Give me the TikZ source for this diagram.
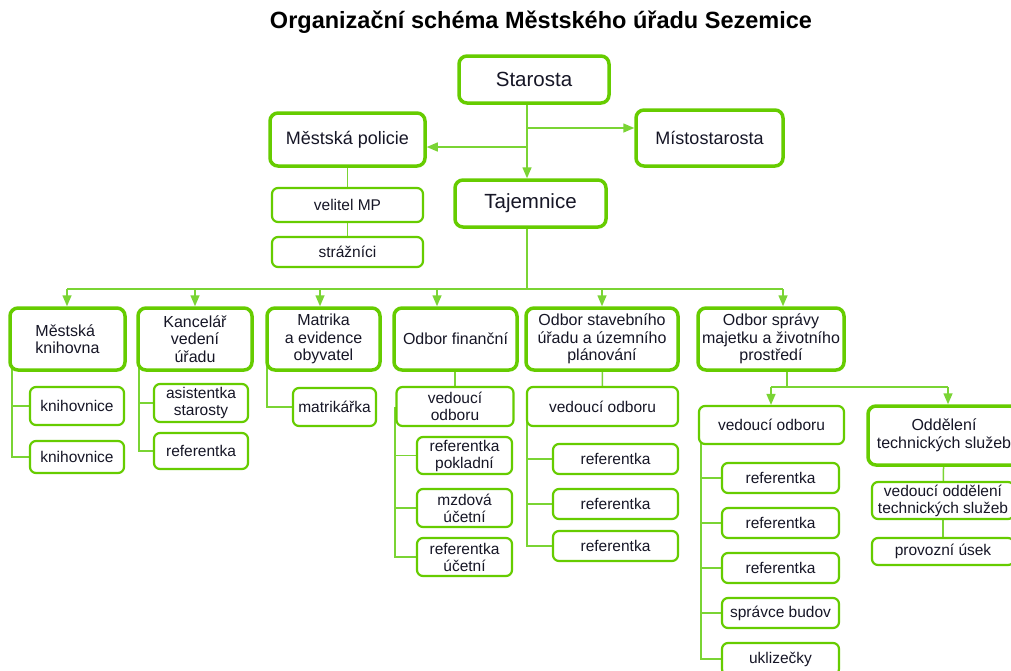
\documentclass[tikz,border=0pt]{standalone}
\usepackage{fontspec}
\setmainfont{Liberation Sans}
\usetikzlibrary{arrows.meta,backgrounds}
\definecolor{grn}{RGB}{102,204,0}
\definecolor{lgrn}{RGB}{122,212,52}
\definecolor{txt}{RGB}{22,22,38}
\begin{document}
\begin{tikzpicture}[x=1pt,y=-1pt,
 every node/.style={text=txt, inner sep=0pt, align=center},
 big/.style={draw=grn, line width=3.5pt, rounded corners=8pt, fill=white},
 small/.style={draw=grn, line width=2.2pt, rounded corners=6pt, fill=white},
 link/.style={draw=lgrn, line width=1.5pt},
 arr/.style={link, -{Triangle[length=11pt,width=9pt]}},
 fA/.style={font=\fontsize{20.5}{22}\selectfont},
 fB/.style={font=\fontsize{18}{20}\selectfont},
 fC/.style={font=\fontsize{16}{17.5}\selectfont},
 fD/.style={font=\fontsize{15.5}{17}\selectfont},
]
\useasboundingbox (0,0) rectangle (1011,670);
\clip (0,0) rectangle (1011,670);

\node[font=\bfseries\fontsize{23.5}{26}\selectfont, text=black] (title) at (541,22) {Organizační schéma Městského úřadu Sezemice};

% top level
\node[big,fA,minimum width=150pt,minimum height=47pt] (starosta) at (534,79.5) {Starosta};
\node[big,fB,minimum width=155pt,minimum height=53pt] (policie) at (347.5,139.5) {Městská policie};
\node[big,fB,minimum width=147pt,minimum height=56pt] (misto) at (709.5,138) {Místostarosta};
\node[big,fA,minimum width=151pt,minimum height=47pt] (tajemnice) at (530.5,203.5) {Tajemnice};
\node[small,fD,minimum width=151pt,minimum height=34pt] (velitel) at (347.5,205) {velitel MP};
\node[small,fD,minimum width=151pt,minimum height=30pt] (straznici) at (347.5,252) {strážníci};

% departments
\node[big,fC,minimum width=115pt,minimum height=62pt,align=left] (knihovna) at (67.5,339) {Městská\\knihovna};
\node[big,fC,minimum width=114pt,minimum height=62pt] (kancelar) at (195,339) {Kancelář\\vedení\\úřadu};
\node[big,fC,minimum width=113pt,minimum height=62pt] (matrika) at (323.5,339) {Matrika\\a evidence\\obyvatel};
\node[big,fC,minimum width=123pt,minimum height=62pt] (financni) at (455.5,339) {Odbor finanční};
\node[big,fC,minimum width=152pt,minimum height=62pt] (stavebni) at (602,339) {Odbor stavebního\\úřadu a územního\\plánování};
\node[big,fC,minimum width=146pt,minimum height=62pt] (sprava) at (771,339) {Odbor správy\\majetku a životního\\prostředí};

% knihovna
\node[small,fD,minimum width=94pt,minimum height=38pt] (knih1) at (77,406) {knihovnice};
\node[small,fD,minimum width=94pt,minimum height=32pt] (knih2) at (77,457) {knihovnice};
% kancelar
\node[small,fD,minimum width=94pt,minimum height=38pt] (asist) at (201,403) {asistentka\\starosty};
\node[small,fD,minimum width=94pt,minimum height=36pt] (refK) at (201,451) {referentka};
% matrika
\node[small,fD,minimum width=83pt,minimum height=38pt] (matrikarka) at (334.5,407) {matrikářka};
% financni
\node[small,fD,minimum width=117pt,minimum height=39pt] (vedF) at (455,406.5) {vedoucí\\odboru};
\node[small,fD,minimum width=95pt,minimum height=37pt] (refP) at (464.5,455.5) {referentka\\pokladní};
\node[small,fD,minimum width=95pt,minimum height=38pt] (mzdova) at (464.5,508) {mzdová\\účetní};
\node[small,fD,minimum width=95pt,minimum height=38pt] (refU) at (464.5,557) {referentka\\účetní};
% stavebni
\node[small,fD,minimum width=151pt,minimum height=39pt] (vedS) at (602.5,406.5) {vedoucí odboru};
\node[small,fD,minimum width=125pt,minimum height=30pt] (refS1) at (615.5,459) {referentka};
\node[small,fD,minimum width=125pt,minimum height=30pt] (refS2) at (615.5,504) {referentka};
\node[small,fD,minimum width=125pt,minimum height=30pt] (refS3) at (615.5,546) {referentka};
% sprava
\node[small,fD,minimum width=145pt,minimum height=38pt] (vedM) at (771.5,425) {vedoucí odboru};
\node[small,fD,minimum width=117pt,minimum height=30pt] (refM1) at (780.5,478) {referentka};
\node[small,fD,minimum width=117pt,minimum height=30pt] (refM2) at (780.5,523) {referentka};
\node[small,fD,minimum width=117pt,minimum height=30pt] (refM3) at (780.5,568) {referentka};
\node[small,fD,minimum width=117pt,minimum height=30pt] (spravce) at (780.5,613) {správce budov};
\node[small,fD,minimum width=117pt,minimum height=32pt] (uklizecky) at (780.5,659) {uklizečky};
% oddeleni
\node[big,fC,minimum width=152pt,minimum height=59pt] (oddel) at (944,435.5) {Oddělení\\technických služeb};
\node[small,fD,minimum width=142pt,minimum height=37pt] (vedO) at (943,500.5) {vedoucí oddělení\\technických služeb};
\node[small,fD,minimum width=142pt,minimum height=27pt] (provoz) at (943,551.5) {provozní úsek};

% coordinates
\coordinate (spine) at (527,0);
\coordinate (bM) at (527,128);
\coordinate (bP) at (527,147);
\coordinate (a1) at (67,289);
\coordinate (a2) at (195,289);
\coordinate (a3) at (320,289);
\coordinate (a4) at (437,289);
\coordinate (a5) at (602,289);
\coordinate (a6) at (783,289);
\coordinate (t1) at (12,0);
\coordinate (t2) at (139,0);
\coordinate (t3) at (267,0);
\coordinate (t4) at (395,0);
\coordinate (t5) at (527,0);
\coordinate (t6) at (701,0);
\coordinate (bs) at (787,387);
\coordinate (b1) at (771,387);
\coordinate (b2) at (948,387);

\begin{scope}[on background layer]
\fill[white] (0,0) rectangle (1011,670);
\draw[link] (starosta.center -| spine) -- (bP);
\draw[link] (policie.center) -- (straznici.center);
\draw[link] (tajemnice.center -| spine) -- (spine |- a1);
\draw[link] (a1) -- (a6);
\draw[link] (knihovna.center -| t1) |- (knih2.center);
\draw[link] (t1 |- knih1.center) -- (knih1.center);
\draw[link] (kancelar.center -| t2) |- (refK.center);
\draw[link] (t2 |- asist.center) -- (asist.center);
\draw[link] (matrika.center -| t3) |- (matrikarka.center);
\draw[link] (financni.center -| vedF.center) -- (vedF.center);
\draw[link] (vedF.center -| t4) |- (refU.center);
\draw[link] (t4 |- refP.center) -- (refP.center);
\draw[link] (t4 |- mzdova.center) -- (mzdova.center);
\draw[link] (stavebni.center) -- (vedS.center);
\draw[link] (vedS.center -| t5) |- (refS3.center);
\draw[link] (t5 |- refS1.center) -- (refS1.center);
\draw[link] (t5 |- refS2.center) -- (refS2.center);
\draw[link] (sprava.center -| bs) -- (bs);
\draw[link] (b1) -- (b2);
\draw[link] (vedM.center -| t6) |- (uklizecky.center);
\draw[link] (t6 |- refM1.center) -- (refM1.center);
\draw[link] (t6 |- refM2.center) -- (refM2.center);
\draw[link] (t6 |- refM3.center) -- (refM3.center);
\draw[link] (t6 |- spravce.center) -- (spravce.center);
\draw[link] (oddel.center) -- (vedO.center);
\draw[link] (vedO.center) -- (provoz.center);
\end{scope}

\draw[arr] (starosta.south -| spine) -- (tajemnice.north -| spine);
\draw[arr] (bM) -- (bM -| misto.west);
\draw[arr] (bP) -- (bP -| policie.east);
\draw[arr] (a1) -- (a1 |- knihovna.north);
\draw[arr] (a2) -- (a2 |- kancelar.north);
\draw[arr] (a3) -- (a3 |- matrika.north);
\draw[arr] (a4) -- (a4 |- financni.north);
\draw[arr] (a5) -- (a5 |- stavebni.north);
\draw[arr] (a6) -- (a6 |- sprava.north);
\draw[arr] (b1) -- (b1 |- vedM.north);
\draw[arr] (b2) -- (b2 |- oddel.north);
\end{tikzpicture}
\end{document}
